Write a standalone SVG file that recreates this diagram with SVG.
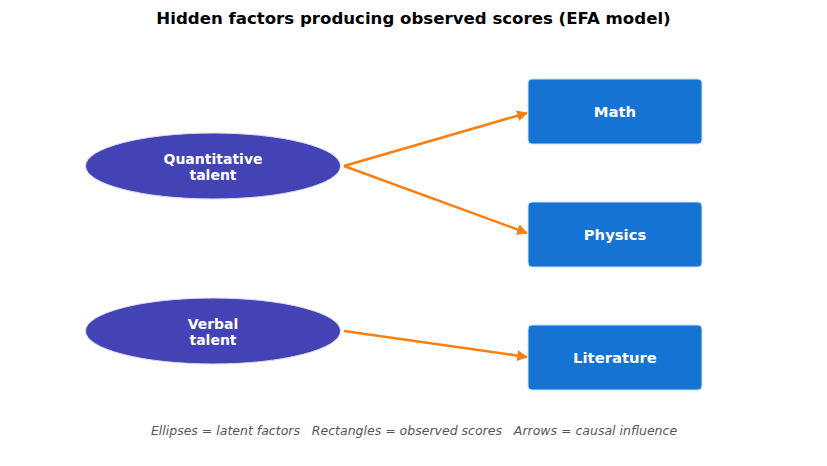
<svg xmlns="http://www.w3.org/2000/svg" width="827" height="466" viewBox="0 0 827 466">
<style>
.title{font-family:"DejaVu Sans",sans-serif;font-weight:bold;font-size:16.6px;fill:#000;text-anchor:middle}
.lbl{font-family:"DejaVu Sans",sans-serif;font-weight:bold;font-size:14px;fill:#fff;text-anchor:middle}
.lbl2{font-family:"DejaVu Sans",sans-serif;font-weight:bold;font-size:14.8px;fill:#fff;text-anchor:middle}
.foot{font-family:"DejaVu Sans",sans-serif;font-style:italic;font-size:12.5px;fill:#555;text-anchor:middle;white-space:pre}
.lat{fill:#4343b5;stroke:#dcdcf0;stroke-width:1}
.obs{fill:#1473d3;stroke:#d0e0f4;stroke-width:1}
.edge{stroke:#ff7f0e;stroke-width:2.5;fill:none;marker-end:url(#ah)}
</style>
<defs>
<marker id="ah" viewBox="0 0 10 10" refX="9" refY="5" markerWidth="4.4" markerHeight="4.4" orient="auto" markerUnits="strokeWidth">
<path d="M0,0 L10,5 L0,10 z" fill="#ff7f0e"/>
</marker>
</defs>
<rect width="827" height="466" fill="#fff"/>
<text class="title" x="413.5" y="24">Hidden factors producing observed scores (EFA model)</text>
<g id="connectors">
<line class="edge" x1="344" y1="166" x2="527" y2="113"/>
<line class="edge" x1="344" y1="166" x2="527" y2="233"/>
<line class="edge" x1="344" y1="331" x2="527" y2="357"/>
</g>
<g id="quant">
<ellipse class="lat" cx="213" cy="166" rx="127.5" ry="33"/>
<text class="lbl" x="213" y="163.5">Quantitative</text>
<text class="lbl" x="213" y="179.5">talent</text>
</g>
<g id="verbal">
<ellipse class="lat" cx="213" cy="331" rx="127.5" ry="33"/>
<text class="lbl" x="213" y="328.5">Verbal</text>
<text class="lbl" x="213" y="344.5">talent</text>
</g>
<g id="math">
<rect class="obs" x="528" y="79" width="174" height="65" rx="4"/>
<text class="lbl2" x="615" y="117">Math</text>
</g>
<g id="physics">
<rect class="obs" x="528" y="202" width="174" height="65" rx="4"/>
<text class="lbl2" x="615" y="240">Physics</text>
</g>
<g id="literature">
<rect class="obs" x="528" y="325" width="174" height="65" rx="4"/>
<text class="lbl2" x="615" y="363">Literature</text>
</g>
<text class="foot" x="414" y="435" xml:space="preserve">Ellipses = latent factors   Rectangles = observed scores   Arrows = causal influence</text>
</svg>
